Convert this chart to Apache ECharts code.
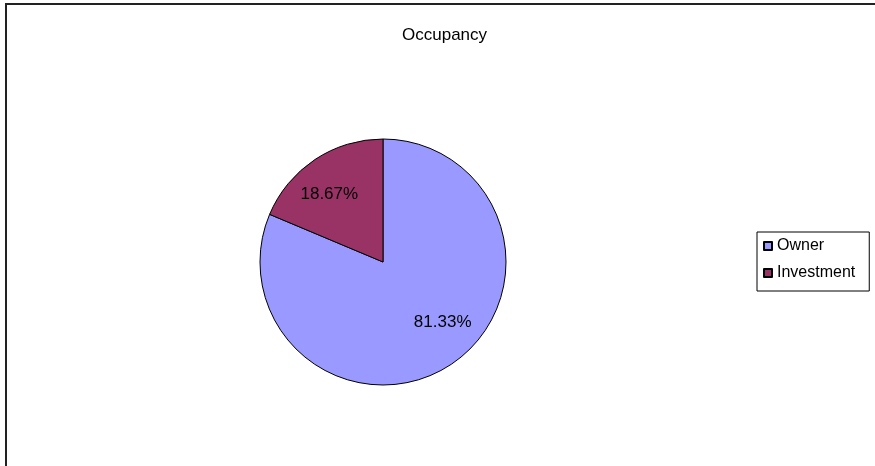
<!DOCTYPE html>
<html>
<head>
<meta charset="utf-8">
<script src="https://cdn.jsdelivr.net/npm/echarts@6/dist/echarts.min.js"></script>
<style>
  html, body { margin: 0; padding: 0; background: #fff; }
  #frame { position: absolute; left: 0; top: 0; width: 875px; height: 466px; overflow: hidden; }
  #border { position: absolute; left: 5px; top: 3px; width: 900px; height: 500px; border-left: 2px solid #222; border-top: 2px solid #222; box-sizing: border-box; }
  #chart { position: absolute; left: 0; top: 0; width: 875px; height: 466px; }
</style>
</head>
<body>
<div id="frame">
  <div id="border"></div>
  <div id="chart"></div>
</div>
<script>
const chartTitle = "Occupancy";
const categories = ["Owner", "Investment"];
const values = [81.33, 18.67];
const colors = ["#9999FF", "#993366"];
const labelShift = [[24, 7], [-18, -14]];

const chart = echarts.init(document.getElementById('chart'), null, { renderer: 'canvas' });
chart.setOption({
  animation: false,
  backgroundColor: 'transparent',
  title: {
    text: chartTitle,
    left: 402,
    top: 27,
    padding: 0,
    textStyle: { fontFamily: 'Liberation Sans, Arial, sans-serif', fontSize: 17, fontWeight: 'normal', color: '#000' }
  },
  legend: {
    orient: 'vertical',
    left: 757,
    top: 232,
    padding: [6, 14, 10, 6],
    itemGap: 11,
    itemWidth: 8,
    itemHeight: 8,
    icon: 'rect',
    borderColor: '#000',
    borderWidth: 1,
    backgroundColor: '#fff',
    data: categories,
    textStyle: { fontFamily: 'Liberation Sans, Arial, sans-serif', fontSize: 16, color: '#000', padding: [0, 0, 0, 0] }
  },
  series: [{
    type: 'pie',
    center: [383, 262],
    radius: [0, 123],
    startAngle: 90,
    clockwise: true,
    silent: true,
    emphasis: { disabled: true },
    itemStyle: { borderColor: '#000', borderWidth: 1 },
    label: {
      show: true,
      position: 'inside',
      formatter: p => p.value.toFixed(2) + '%',
      fontFamily: 'Liberation Sans, Arial, sans-serif',
      fontSize: 17,
      color: '#000'
    },
    labelLayout: p => ({ dx: labelShift[p.dataIndex][0], dy: labelShift[p.dataIndex][1] }),
    labelLine: { show: false },
    data: categories.map((c, i) => ({ name: c, value: values[i], itemStyle: { color: colors[i] } }))
  }]
});
</script>
</body>
</html>
